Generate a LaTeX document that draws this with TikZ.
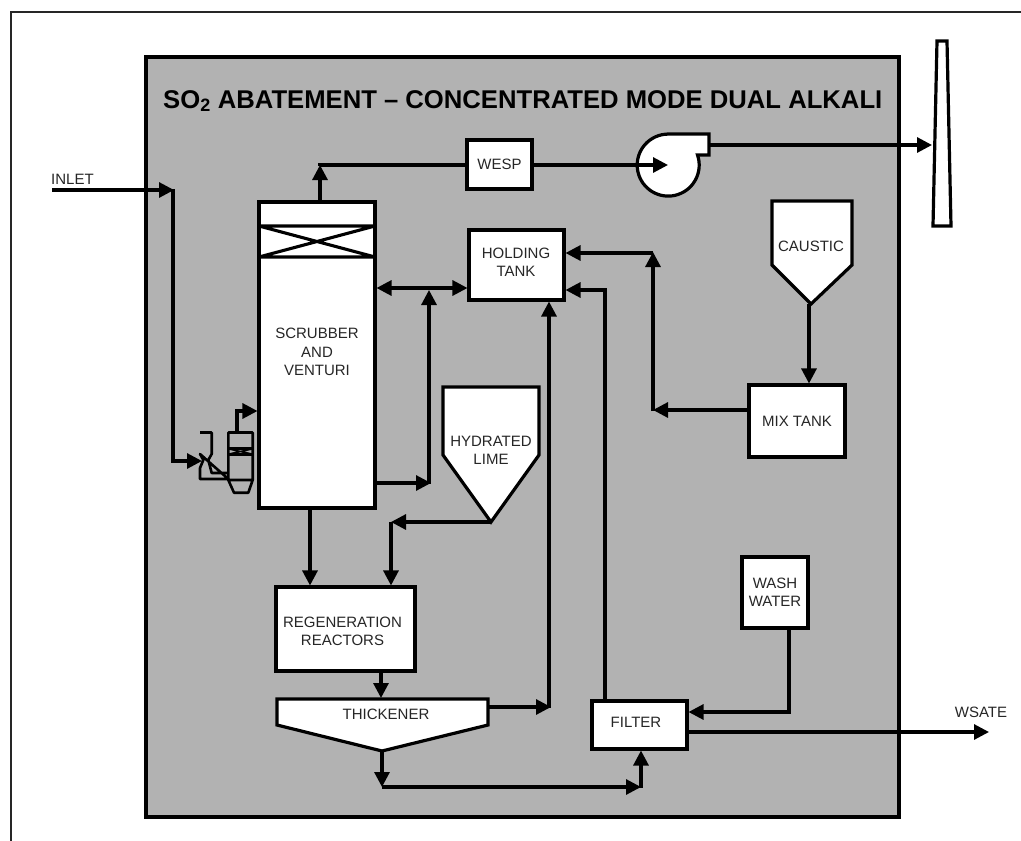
\documentclass[tikz,border=0pt]{standalone}
\usepackage{fontspec}
\setmainfont{Liberation Sans}
\usetikzlibrary{arrows.meta}
\tikzset{
  x=1pt,y=-1pt,
  ln/.style={line width=3.1pt,black,line join=miter},
  pbox/.style={draw=black,line width=3.05pt,fill=white,inner sep=0pt,align=center,text=black!85,font=\fontsize{15}{18.3}\selectfont},
  lab/.style={inner sep=0pt,align=center,font=\fontsize{15}{18.3}\selectfont,text=black!85},
  arr/.style={ln,-{Triangle[length=15pt,width=15pt]}},
  dbl/.style={ln,{Triangle[length=15pt,width=15pt]}-{Triangle[length=15pt,width=15pt]}},
  shp/.style={draw=black,line width=3.2pt,fill=white,line join=miter},
  sm/.style={draw=black,line width=2.6pt,line join=round}
}
\begin{document}
\begin{tikzpicture}
\useasboundingbox (0,0) rectangle (1021,841);
\fill[white] (0,0) rectangle (1021,841);
% outer frame
\draw[black!85,line width=1.8pt] (11,841) -- (11,12) -- (1021,12);
% panel
\node[draw=black,line width=3.05pt,fill=black!30,minimum width=753pt,minimum height=760pt,inner sep=0pt] (panel) at (522.5,437) {};
\node[inner sep=0pt,anchor=base west,font=\bfseries\fontsize{25.65}{28}\selectfont] (title) at (163,108) {SO\textsubscript{2} ABATEMENT – CONCENTRATED MODE DUAL ALKALI};
% stack
\draw[shp] (937,41) -- (947,41) -- (951,226) -- (933,226) -- cycle;
\coordinate (stackin) at (932,145);
% scrubber
\node[pbox,minimum width=116pt,minimum height=306pt] (scrub) at (317,355) {};
\draw[ln] (259,226) -- (375,226) (259,257) -- (375,257) (259,226) -- (375,257) (259,257) -- (375,226);
\node[lab] (scrubt) at (317,352) {SCRUBBER\\AND\\VENTURI};
% boxes
\node[pbox,minimum width=65pt,minimum height=49pt] (wesp) at (499.5,164.5) {WESP};
\node[pbox,minimum width=95pt,minimum height=70pt] (hold) at (516.5,265) {};
\node[lab] (holdt) at (516,262) {HOLDING\\TANK};
\node[pbox,minimum width=96pt,minimum height=72pt] (mix) at (797,421) {MIX TANK};
\node[pbox,minimum width=66pt,minimum height=71pt] (wash) at (775,592.5) {WASH\\WATER};
\node[pbox,minimum width=139pt,minimum height=84pt] (regen) at (345.5,629) {};
\node[lab] (regent) at (342.5,631) {REGENERATION\\REACTORS};
\node[pbox,minimum width=95pt,minimum height=48pt] (filter) at (639.5,725) {};
\node[lab] (filtert) at (636,722) {FILTER};
% hoppers
\draw[shp] (772,201) -- (852,201) -- (852,265) -- (811,304) -- (772,265) -- cycle;
\coordinate (caustictip) at (809,304);
\node[lab] (caustic) at (811,246) {CAUSTIC};
\draw[shp] (443,387) -- (539,387) -- (539,455) -- (491,522) -- (443,455) -- cycle;
\coordinate (limetip) at (491,522);
\node[lab] (lime) at (491,450) {HYDRATED\\LIME};
\draw[shp] (277,699) -- (488,699) -- (488,725) -- (382,751) -- (277,725) -- cycle;
\coordinate (thicktip) at (382,751);
\node[lab] (thick) at (386,714) {THICKENER};
% fan
\draw[shp] (668.2,134) -- (709,134) -- (709,155) -- (697.5,155) arc[start angle=-19,end angle=270,radius=31] -- cycle;
\coordinate (fanc) at (668,165);
\coordinate (fanout) at (709,145);
% mini venturi
\draw[sm] (200,432.5) -- (211.7,432.5) -- (211.7,454) -- (208.3,460) -- (211.7,473) -- (228.3,473) (228.3,479) -- (200,479) -- (200,468) -- (203.3,460) -- (200,454) -- cycle;
\draw[sm] (228.3,480) -- (228.3,432.5) -- (252.7,432.5) -- (252.7,480) -- (248.3,492.7) -- (234,492.7) -- (228.3,480) -- (252.7,480);
\draw[sm] (228.3,448.5) -- (252.7,448.5) (228.3,454.5) -- (252.7,454.5);
\draw[black,line width=1.6pt] (229,449) -- (252,454) (229,454) -- (252,449);
\coordinate (ventin) at (202,461);
\coordinate (ventout) at (237,432.5);
% connectors
\node[lab,anchor=west] (inlet) at (51,179) {INLET};
\coordinate (i0) at (52,190);
\coordinate (i1) at (174,190);
\coordinate (i2) at (173,461);
\draw[arr] (i0) -- (i1);
\draw[arr] (173,189) -- (i2) -- (ventin);
\draw[arr] (ventout) -- (237,411) -- (scrub.west |- 0,411);
\coordinate (sct) at (320,165);
\draw[arr] (scrub.north -| sct) -- (sct);
\draw[ln] (320,166.4) -- (320,165) -- (wesp.west |- sct);
\draw[arr] (wesp.east |- fanc) -- (fanc);
\draw[arr] (fanout) -- (stackin);
\coordinate (j1) at (429,288);
\draw[dbl] (scrub.east |- j1) -- (hold.west |- j1);
\coordinate (j2) at (431,483);
\draw[arr] (scrub.east |- j2) -- (j2);
\draw[arr] (429,484) -- (429,290);
\coordinate (l1) at (391,522);
\draw[arr] (limetip) -- (l1);
\draw[arr] (l1) -- (l1 |- regen.north);
\draw[arr] (scrub.south -| 310,0) -- (regen.north -| 310,0);
\draw[arr] (regen.south -| 381,0) -- (381,698);
\coordinate (t1) at (551,707);
\draw[arr] (488,707) -- (t1);
\draw[arr] (549,708) -- (hold.south -| 549,0);
\coordinate (t2) at (382,787);
\coordinate (t3) at (641,787);
\draw[arr] (thicktip) -- (t2);
\draw[arr] (t2) -- (t3);
\draw[arr] (641,788) -- (filter.south -| t3);
\draw[arr] (filter.north -| 605,0) -- (605,290) -- (hold.east |- 0,290);
\draw[arr] (wash.south -| 789,0) -- (789,712) -- (filter.east |- 0,712);
\coordinate (w1) at (989,732);
\draw[arr] (filter.east |- w1) -- (w1);
\node[lab] (wsate) at (981,712) {WSATE};
\draw[arr] (caustictip) -- (mix.north -| caustictip);
\coordinate (m1) at (653,410);
\draw[arr] (mix.west |- m1) -- (m1);
\draw[arr] (653,411) -- (653,252);
\draw[arr] (653,253) -- (hold.east |- 0,253);
\end{tikzpicture}
\end{document}
